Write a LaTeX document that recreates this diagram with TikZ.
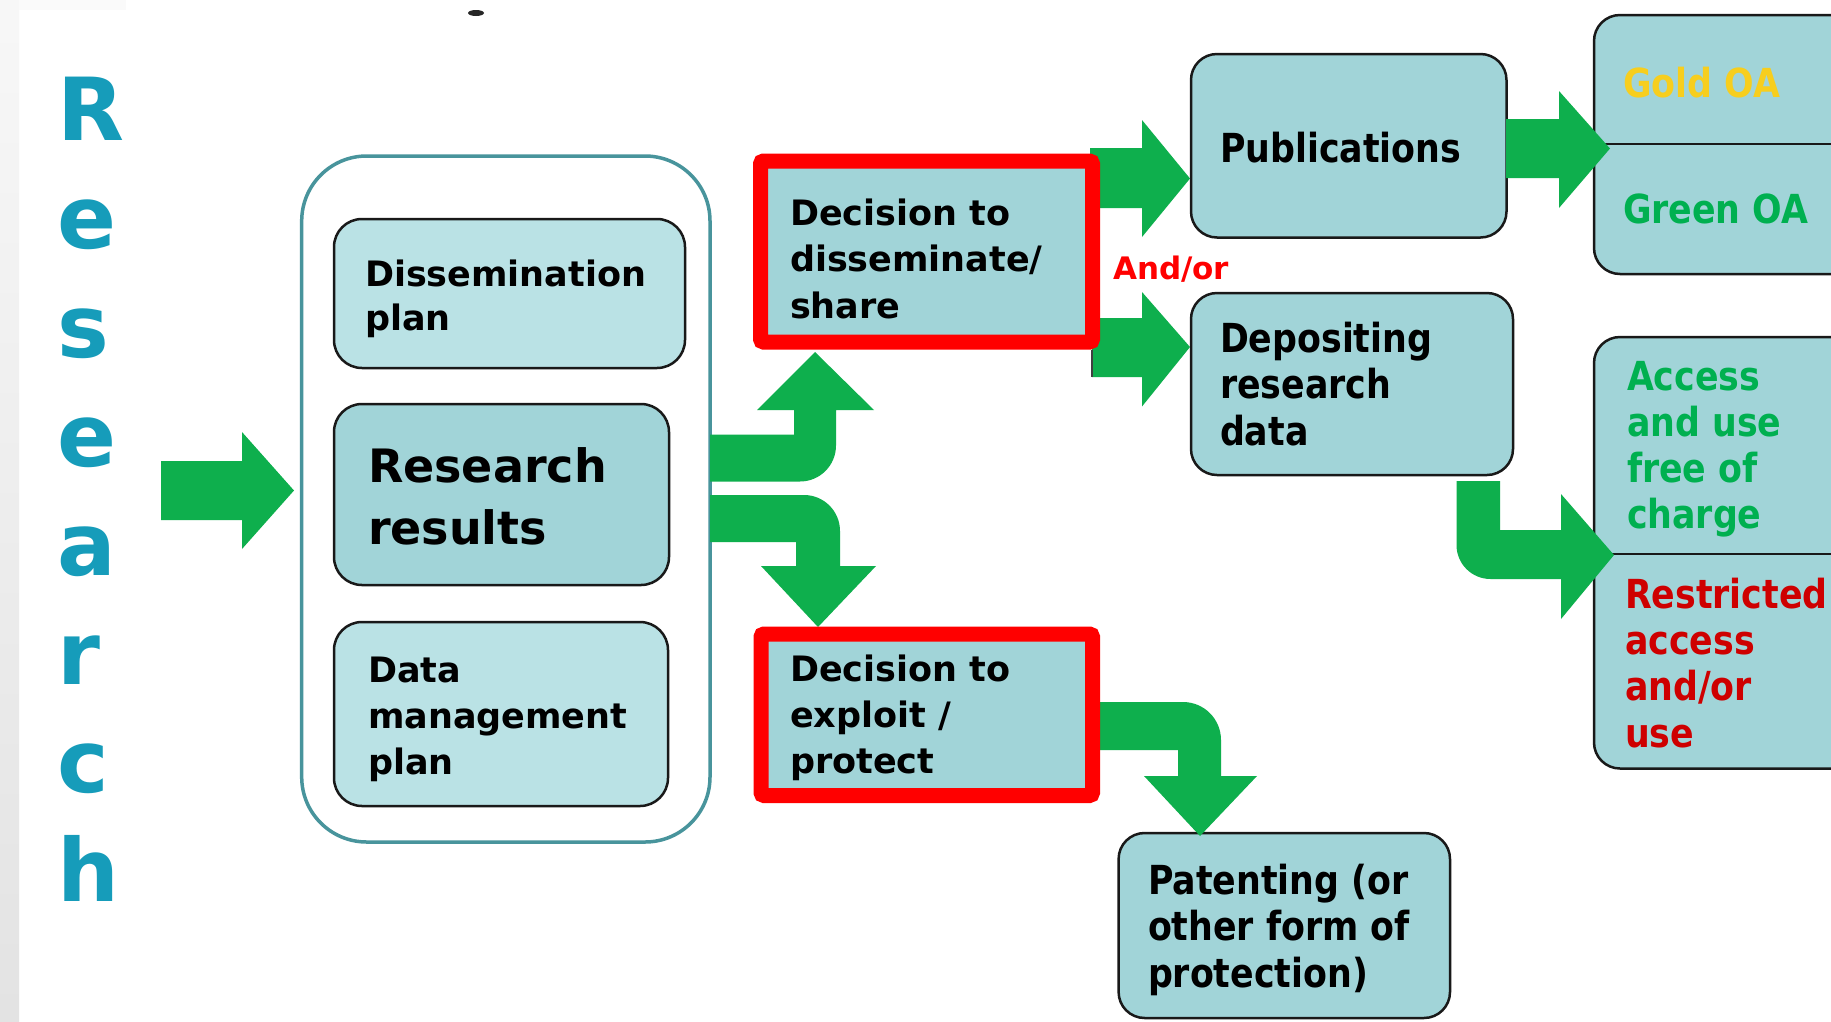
\documentclass[tikz,border=0pt]{standalone}
\usepackage{fontspec}
\setmainfont{DejaVu Sans}
\newfontfamily\narrowfont{DejaVu Sans}[FakeStretch=0.87]
\definecolor{argreen}{RGB}{14,175,77}
\definecolor{txgreen}{RGB}{0,176,80}
\definecolor{boxmid}{RGB}{161,212,216}
\definecolor{boxlight}{RGB}{186,226,229}
\definecolor{rteal}{RGB}{22,156,186}
\definecolor{oteal}{RGB}{72,148,156}
\definecolor{goldtx}{RGB}{247,206,30}
\definecolor{dredtx}{RGB}{206,0,0}
\newcommand{\ml}[1]{\begin{tabular}[t]{@{}l@{}}#1\end{tabular}}
\newcommand{\lf}[2]{\fontsize{#1}{#2}\selectfont\bfseries}
\newcommand{\rf}[1]{\narrowfont\fontsize{40}{#1}\selectfont\bfseries}
\tikzset{
  box/.style={draw=black!90, line width=2.5, rounded corners=26, fill=boxmid, inner sep=0, outer sep=0},
  lightbox/.style={box, fill=boxlight, rounded corners=28},
  redbox/.style={draw=red, line width=15, rounded corners=3, fill=boxmid, inner sep=0, outer sep=0},
  outerbox/.style={draw=oteal, line width=3.5, rounded corners=65, fill=white, inner sep=0, outer sep=0},
  garrow/.style={fill=argreen, draw=none},
  lbl/.style={anchor=base west, inner sep=0, outer sep=0},
}
\begin{document}
\begin{tikzpicture}[x=1pt,y=-1pt]
\useasboundingbox (0,0) rectangle (1831,1021);
\clip (0,0) rectangle (1831,1021);
\fill[white] (0,0) rectangle (1831,1021);
% left grey strip and small mark
\shade[top color=gray!6, bottom color=gray!22] (0,0) rectangle (19,1021);
\fill[gray!4] (19,0) rectangle (126,10);
\fill[black!85] (476,13) ellipse [x radius=8, y radius=3];

% vertical word
\node[lbl, text=rteal, font={\lf{87}{108.8}}] (word) at (57,140) {\ml{R\\e\\s\\e\\a\\r\\c\\h}};

% left group
\node[outerbox, minimum width=408.3, minimum height=686] (outer) at (505.85,499) {};
\node[lightbox, minimum width=351, minimum height=149] (dis) at (509.5,293.5) {};
\node[box, rounded corners=28, minimum width=335, minimum height=181] (res) at (501.5,494.5) {};
\node[lightbox, minimum width=334, minimum height=184] (dmp) at (501,714) {};

% right boxes
\node[box, minimum width=315.5, minimum height=183.5] (pub) at (1348.75,145.75) {};
\node[box, minimum width=322, minimum height=182] (dep) at (1352,384) {};
\node[box, minimum width=306, minimum height=259] (oa) at (1747,144.5) {};
\draw[black!90, line width=2.5] (1594,144) -- (1900,144);
\node[box, minimum width=306, minimum height=431.5] (acc) at (1747,552.75) {};
\draw[black!90, line width=2.5] (1594,553.8) -- (1900,553.8);
\node[box, minimum width=331.4, minimum height=185] (pat) at (1284.3,925.5) {};

% arrows
\fill[garrow] (161,461) -- (242,461) -- (242,432) -- (294,490.5) -- (242,549) -- (242,520) -- (161,520) -- cycle;
\fill[garrow] (1090,148) -- (1142,148) -- (1142,120) -- (1190,178.5) -- (1142,237) -- (1142,208) -- (1090,208) -- cycle;
\fill[garrow] (1092,318) -- (1142,318) -- (1142,292) -- (1190,347) -- (1142,406.5) -- (1142,377) -- (1092,377) -- cycle;
\draw[black!75, line width=1.5] (1092,350) -- (1092,377);
\fill[garrow] (1506,119) -- (1559,119) -- (1559,91) -- (1610,148.5) -- (1559,208) -- (1559,178) -- (1506,178) -- cycle;
\fill[garrow] (710,434.6) -- (794,434.6) -- (794,410) -- (757,410) -- (815,352) -- (874,410) -- (836,410) -- (836,445.5)
  .. controls (836,465.4) and (819.9,481.5) .. (800,481.5) -- (710,481.5) -- cycle;
\fill[garrow] (710,495) -- (804,495) .. controls (823.9,495) and (840,511.1) .. (840,531) -- (840,566) -- (876,566)
  -- (818,627) -- (761,566) -- (796,566) -- (796,542) -- (710,542) -- cycle;
\fill[garrow] (1100,702) -- (1183,702) .. controls (1204,702) and (1221,719) .. (1221,740) -- (1221,776) -- (1257,776)
  -- (1200,836) -- (1144,776) -- (1178,776) -- (1178,750) -- (1100,750) -- cycle;
\fill[garrow] (1456.5,481) -- (1500,481) -- (1500,530) -- (1561,530) -- (1561,494) -- (1614,555) -- (1561,619)
  -- (1561,579) -- (1490.5,579) .. controls (1471.7,579) and (1456.5,563.8) .. (1456.5,545) -- cycle;

% decision boxes
\node[redbox, minimum width=332, minimum height=181] (dec1) at (926.5,251.5) {};
\node[redbox, minimum width=331.5, minimum height=161.5] (dec2) at (926.75,714.75) {};

% texts
\node[lbl, font={\lf{35}{44}}] (tdis) at (365,286) {\ml{Dissemination\\plan}};
\node[lbl, font={\lf{46}{62}}] (tres) at (368,482) {\ml{Research\\results}};
\node[lbl, font={\lf{35}{46}}] (tdmp) at (368,682) {\ml{Data\\management\\plan}};
\node[lbl, font={\lf{35}{46.5}}] (tdec1) at (790,225) {\ml{Decision to\\disseminate/\\share}};
\node[lbl, font={\lf{35}{46}}] (tdec2) at (790,681.5) {\ml{Decision to\\exploit /\\protect}};
\node[lbl, text=red, font={\lf{31}{40}}] (andor) at (1113,279.5) {And/or};
\node[lbl, font={\rf{46}}] (tpub) at (1220,162) {Publications};
\node[lbl, font={\rf{46.5}}] (tdep) at (1220,352) {\ml{Depositing\\research\\data}};
\node[lbl, text=goldtx, font={\rf{46}}] (tgold) at (1623,97) {Gold OA};
\node[lbl, text=txgreen, font={\rf{46}}] (tgreen) at (1623,223) {Green OA};
\node[lbl, text=txgreen, font={\rf{46}}] (tacc) at (1627,390) {\ml{Access\\and use\\free of\\charge}};
\node[lbl, text=dredtx, font={\rf{46.2}}] (trest) at (1625,608.4) {\ml{Restricted\\access\\and/or\\use}};
\node[lbl, font={\rf{46.5}}] (tpat) at (1148,894) {\ml{Patenting (or\\other form of\\protection)}};
\end{tikzpicture}
\end{document}
